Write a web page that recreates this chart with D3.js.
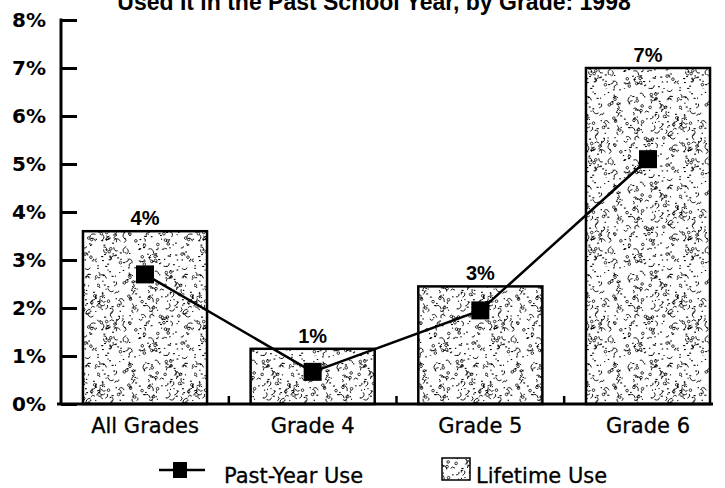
<!DOCTYPE html>
<html>
<head>
<meta charset="utf-8">
<script src="https://cdn.jsdelivr.net/npm/d3@7"></script>
<style>
  html, body { margin: 0; padding: 0; background: #fff; }
  svg { display: block; font-family: "DejaVu Sans", "Liberation Sans", Arial, sans-serif; }
</style>
</head>
<body>
<svg id="chart" width="725" height="488"></svg>
<script>
// Data: share of students who used it, by grade, 1998
const categories = ["All Grades", "Grade 4", "Grade 5", "Grade 6"];
const lifetimeUse = [3.6, 1.15, 2.45, 7.0];
const pastYearUse = [2.7, 0.67, 1.95, 5.1];
const valueLabels = ["4%", "1%", "3%", "7%"];
const yTicks = [0, 1, 2, 3, 4, 5, 6, 7, 8];
const titleText = "Used It in the Past School Year, by Grade: 1998";

const svg = d3.select("#chart");

const x = d3.scaleBand()
  .domain(categories)
  .range([61, 732])
  .paddingInner(0.26)
  .paddingOuter(0.131);

const y = d3.scaleLinear().domain([0, 8]).range([404, 20]);

// Stippled fill: a tile of small specks and squiggles from a fixed hash
const defs = svg.append("defs");
const tileW = 97, tileH = 89;
const pat = defs.append("pattern")
  .attr("id", "stipple")
  .attr("patternUnits", "userSpaceOnUse")
  .attr("width", tileW).attr("height", tileH);
pat.append("rect").attr("width", tileW).attr("height", tileH).attr("fill", "#fff");
function hash(i) {
  const s = Math.sin(i * 127.1 + 311.7) * 43758.5453;
  return s - Math.floor(s);
}
for (let i = 0; i < 340; i++) {
  const px = hash(i) * tileW, py = hash(i + 1000) * tileH, k = hash(i + 2000);
  if (k < 0.5) {
    pat.append("rect").attr("x", px).attr("y", py)
      .attr("width", 1 + hash(i + 3000) * 1.2).attr("height", 1.1)
      .attr("fill", "#000");
  } else if (k < 0.66) {
    pat.append("circle").attr("cx", px).attr("cy", py).attr("r", 1.3)
      .attr("fill", "none").attr("stroke", "#000").attr("stroke-width", 0.8);
  } else {
    const a = hash(i + 4000) * Math.PI * 2, l = 2 + hash(i + 5000) * 3;
    pat.append("path")
      .attr("d", `M${px},${py} q${Math.cos(a) * l},${Math.sin(a) * l} ${Math.cos(a + 1) * l * 1.4},${Math.sin(a + 1) * l * 1.4}`)
      .attr("fill", "none").attr("stroke", "#000").attr("stroke-width", 0.9);
  }
}

// Title (runs off the top edge)
svg.append("text")
  .attr("x", 374).attr("y", 10)
  .attr("text-anchor", "middle")
  .attr("font-family", "'Liberation Sans', Arial, sans-serif")
  .attr("font-size", 23).attr("font-weight", "bold")
  .text(titleText);

// Bars: lifetime use
svg.append("g").selectAll("rect")
  .data(categories)
  .join("rect")
  .attr("x", d => x(d))
  .attr("y", (d, i) => y(lifetimeUse[i]))
  .attr("width", x.bandwidth())
  .attr("height", (d, i) => y(0) - y(lifetimeUse[i]))
  .attr("fill", "url(#stipple)")
  .attr("stroke", "#000")
  .attr("stroke-width", 2.5);

// Value labels above bars
svg.append("g").selectAll("text")
  .data(categories)
  .join("text")
  .attr("x", d => x(d) + x.bandwidth() / 2)
  .attr("y", (d, i) => y(lifetimeUse[i]) - 6)
  .attr("text-anchor", "middle")
  .attr("font-family", "'Liberation Sans', Arial, sans-serif")
  .attr("font-size", 20).attr("font-weight", "bold")
  .text((d, i) => valueLabels[i]);

// Y axis: ticks point inward
const yAxis = d3.axisRight(y)
  .tickValues(yTicks)
  .tickSize(16)
  .tickFormat("");
const yg = svg.append("g").attr("transform", "translate(61,0)").call(yAxis);
yg.select(".domain").remove();
yg.selectAll(".tick line").attr("stroke", "#000").attr("stroke-width", 3);
svg.append("line")
  .attr("x1", 61).attr("x2", 61)
  .attr("y1", y(8) - 1.5).attr("y2", y(0))
  .attr("stroke", "#000").attr("stroke-width", 3);

svg.append("g").selectAll("text")
  .data(yTicks)
  .join("text")
  .attr("x", 46)
  .attr("y", d => y(d))
  .attr("dy", "0.36em")
  .attr("text-anchor", "end")
  .attr("font-size", 20).attr("font-weight", "bold")
  .text(d => d + "%");

// Baseline with short upward ticks between categories
svg.append("line")
  .attr("x1", 57).attr("x2", 713)
  .attr("y1", y(0)).attr("y2", y(0))
  .attr("stroke", "#000").attr("stroke-width", 3);
const gaps = categories.slice(1).map(d => x(d) - x.step() * x.paddingInner() / 2);
svg.append("g").selectAll("line")
  .data(gaps)
  .join("line")
  .attr("x1", d => d).attr("x2", d => d)
  .attr("y1", y(0)).attr("y2", y(0) - 8)
  .attr("stroke", "#000").attr("stroke-width", 2.5);

// Category labels
svg.append("g").selectAll("text")
  .data(categories)
  .join("text")
  .attr("x", d => x(d) + x.bandwidth() / 2)
  .attr("y", 433)
  .attr("text-anchor", "middle")
  .attr("font-size", 21)
  .attr("stroke", "#000").attr("stroke-width", 0.3)
  .text(d => d);

// Past-year line with square markers
const line = d3.line()
  .x((d, i) => x(categories[i]) + x.bandwidth() / 2)
  .y(d => y(d));
svg.append("path")
  .datum(pastYearUse)
  .attr("d", line)
  .attr("fill", "none")
  .attr("stroke", "#000")
  .attr("stroke-width", 2.5);
svg.append("g").selectAll("rect")
  .data(pastYearUse)
  .join("rect")
  .attr("x", (d, i) => x(categories[i]) + x.bandwidth() / 2 - 9)
  .attr("y", d => y(d) - 9)
  .attr("width", 18).attr("height", 18)
  .attr("fill", "#000");

// Legend
const lg = svg.append("g");
lg.append("line").attr("x1", 159).attr("x2", 205).attr("y1", 470).attr("y2", 470)
  .attr("stroke", "#000").attr("stroke-width", 2.5);
lg.append("rect").attr("x", 173).attr("y", 462).attr("width", 14).attr("height", 16)
  .attr("fill", "#000");
lg.append("text").attr("x", 224).attr("y", 483)
  .attr("font-size", 21).attr("stroke", "#000").attr("stroke-width", 0.3)
  .text("Past-Year Use");
lg.append("rect").attr("x", 442).attr("y", 458).attr("width", 28).attr("height", 22)
  .attr("fill", "url(#stipple)").attr("stroke", "#000").attr("stroke-width", 1.5);
lg.append("text").attr("x", 476).attr("y", 483)
  .attr("font-size", 21).attr("stroke", "#000").attr("stroke-width", 0.3)
  .text("Lifetime Use");
</script>
</body>
</html>
